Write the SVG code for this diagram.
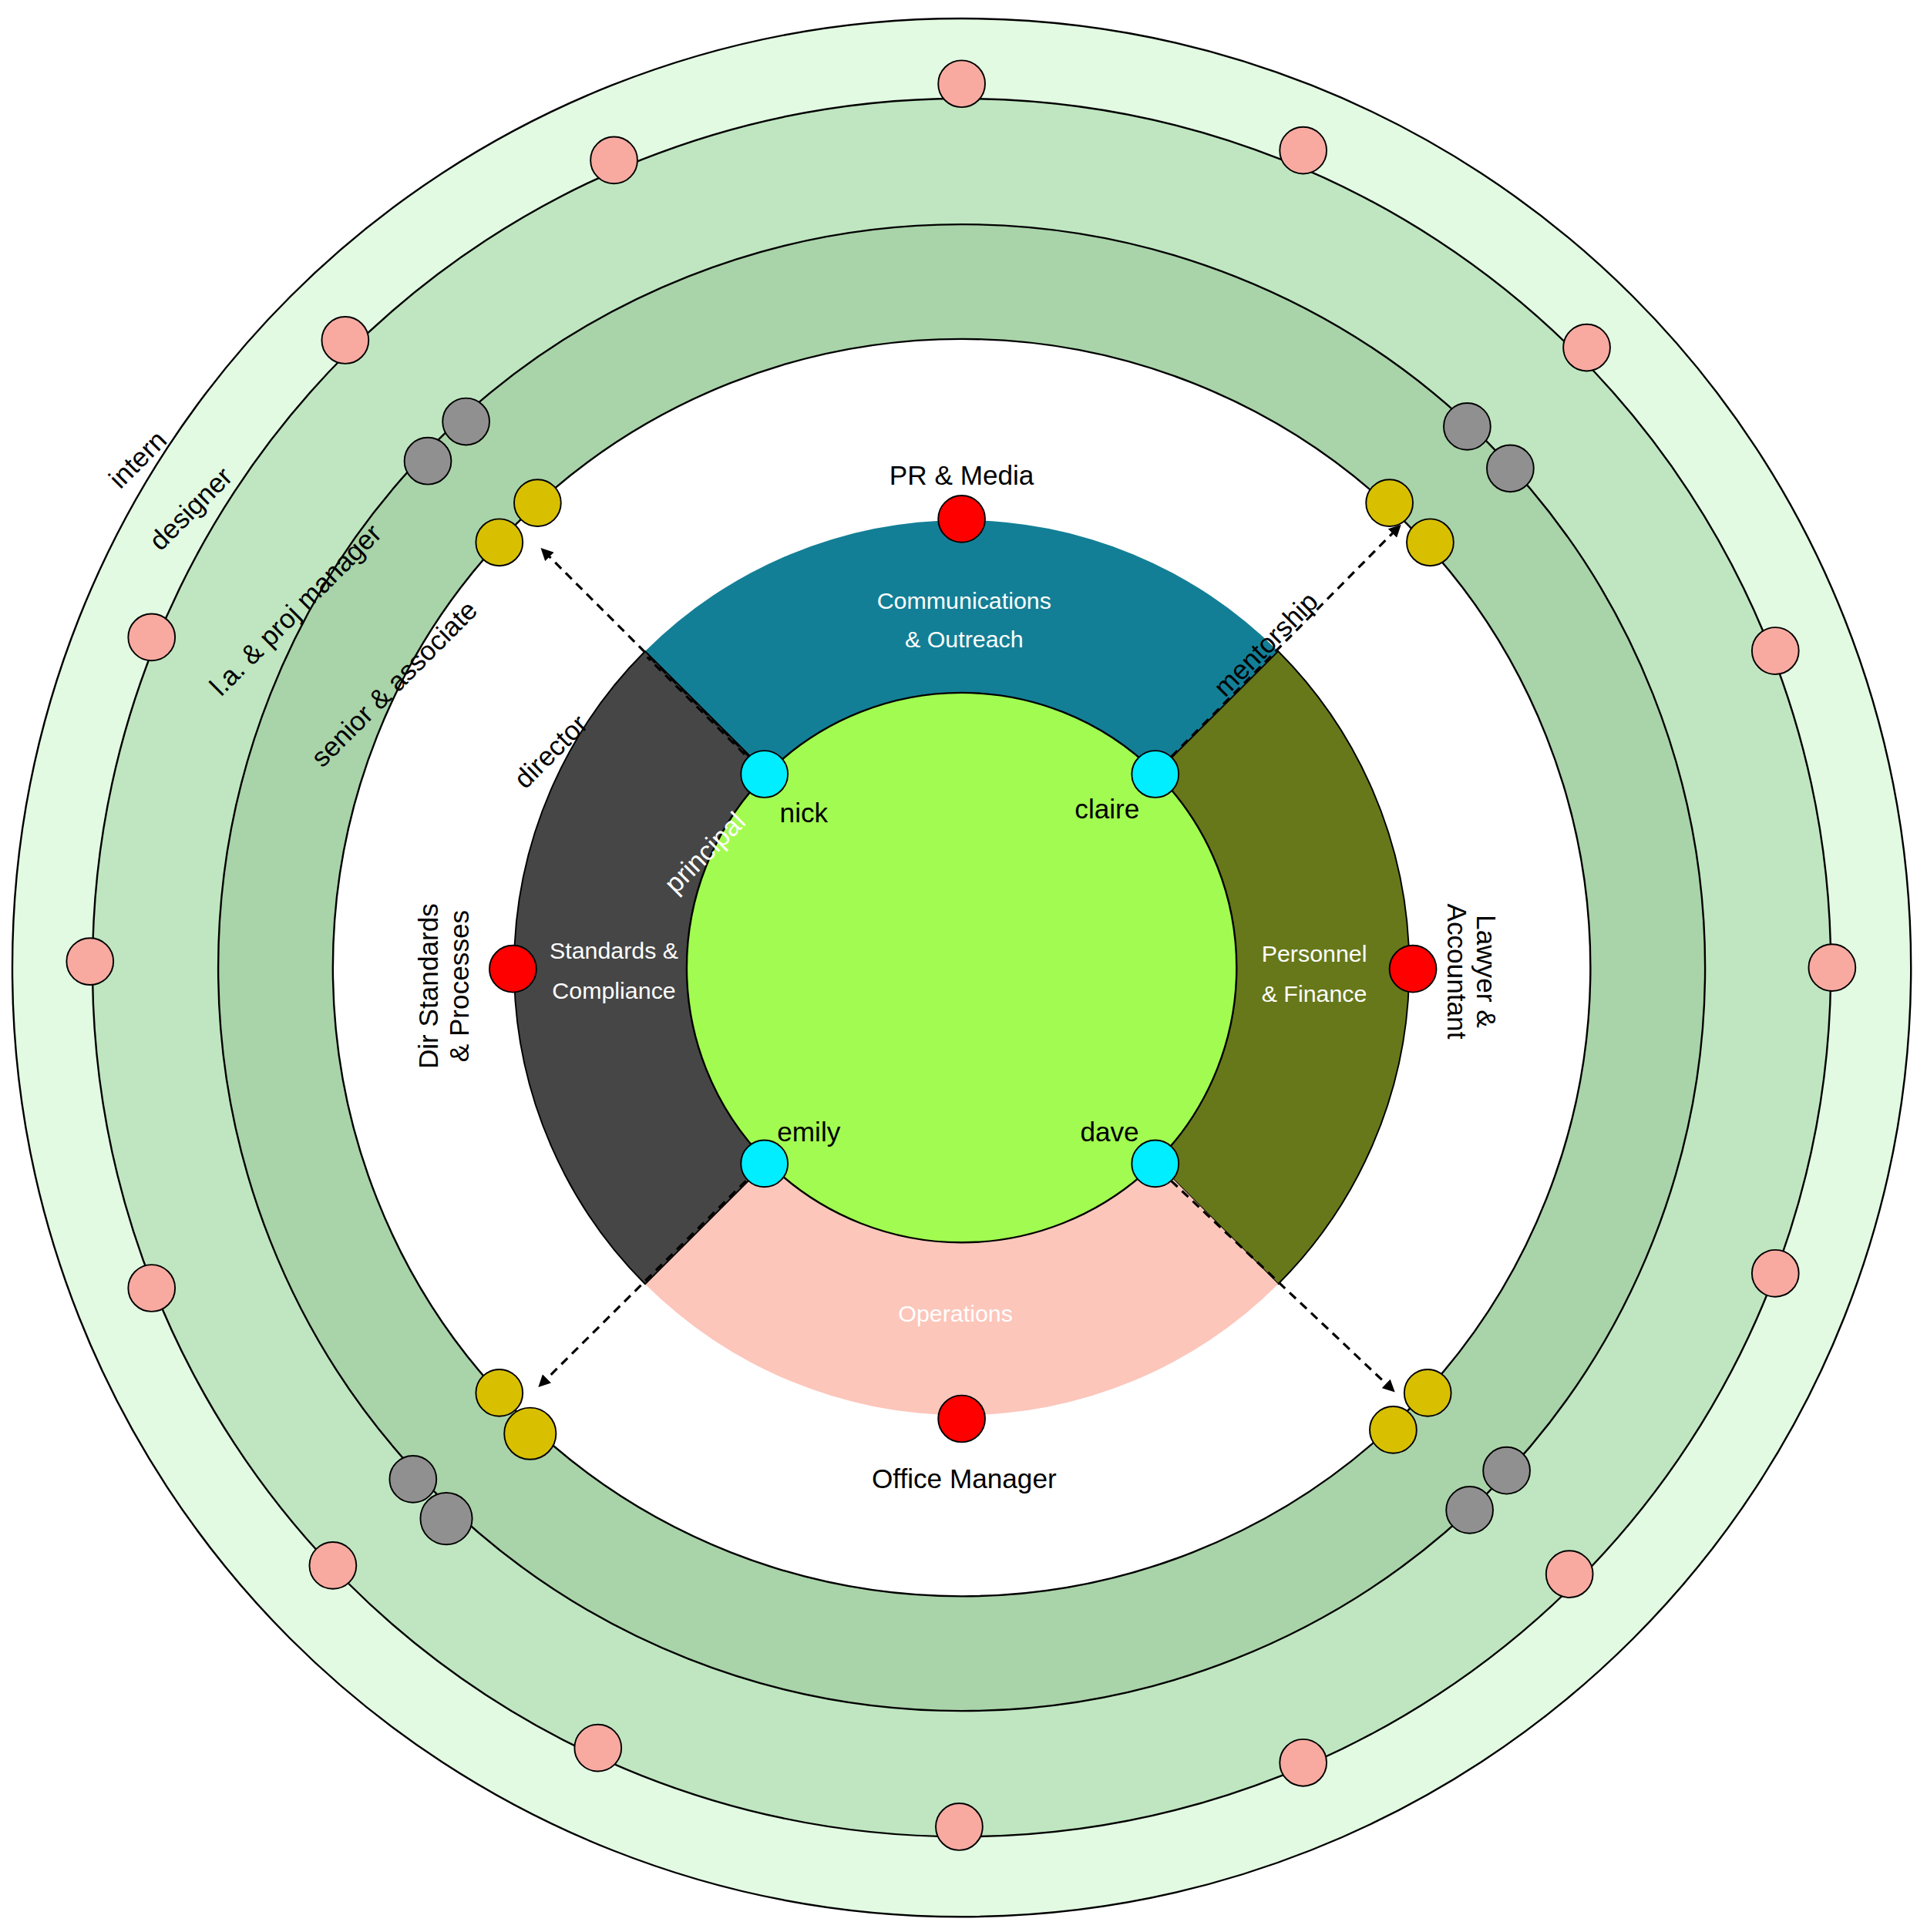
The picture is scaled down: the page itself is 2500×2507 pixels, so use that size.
<svg xmlns="http://www.w3.org/2000/svg" width="2500" height="2507" viewBox="0 0 2500 2507">
<style>
.ln{stroke:#000;stroke-width:1.5}
.pk{fill:#f8aaa0;stroke:#000;stroke-width:1.2}
.gy{fill:#909090;stroke:#000;stroke-width:1.2}
.yl{fill:#d8c000;stroke:#000;stroke-width:1.2}
.rd{fill:#f00;stroke:#000;stroke-width:1.2}
.cy{fill:#00eeff;stroke:#000;stroke-width:1.2}
text{font-family:"Liberation Sans",Arial,sans-serif;font-size:22px;fill:#000}
.w{fill:#fff;font-size:19px}
.m{text-anchor:middle}
.da{stroke:#000;stroke-width:2;stroke-dasharray:7,5;fill:none;marker-end:url(#ah)}
.dn{stroke:#000;stroke-width:2;stroke-dasharray:7,5;fill:none}
</style>
<defs><marker id="ah" markerWidth="10" markerHeight="10" refX="8" refY="5" orient="auto" markerUnits="userSpaceOnUse"><path d="M0,0L10,5L0,10z" fill="#000"/></marker></defs>
<rect width="2500" height="2507" fill="#fff"/>
<g transform="scale(1.5995)">
<g id="rings">
<circle cx="780" cy="785" r="770" fill="#e2f9e2" class="ln"/>
<circle cx="780" cy="785" r="705" fill="#bfe6c0" class="ln"/>
<circle cx="780" cy="785" r="603" fill="#a9d3a9" class="ln"/>
<circle cx="780" cy="785" r="510" fill="#fff" class="ln"/>
</g>
<g id="sectors">
<path d="M780,785 L523.3,528.3 A363,363 0 0 1 1036.7,528.3 Z" fill="#137f96"/>
<path d="M780,785 L1036.7,528.3 A363,363 0 0 1 1036.7,1041.7 Z" fill="#67781a" stroke="#000" stroke-width="1.2"/>
<path d="M780,785 L1036.7,1041.7 A363,363 0 0 1 523.3,1041.7 Z" fill="#fcc6bb"/>
<path d="M780,785 L523.3,1041.7 A363,363 0 0 1 523.3,528.3 Z" fill="#464646" stroke="#000" stroke-width="1.2"/>
<circle cx="780" cy="785" r="223" fill="#a2fb50" class="ln"/>
</g>
<g id="connectors">
<line x1="608" y1="614" x2="440" y2="446" class="da"/>
<line x1="604" y1="612" x2="525" y2="533" class="dn"/>
<line x1="950" y1="614" x2="1135" y2="427" class="da"/>
<line x1="605" y1="958" x2="438" y2="1124" class="da"/>
<line x1="950" y1="958" x2="1130" y2="1128" class="da"/>
</g>
<g id="pink">
<circle cx="780" cy="68" r="19" class="pk"/><circle cx="498" cy="130" r="19" class="pk"/><circle cx="1057" cy="122" r="19" class="pk"/>
<circle cx="280" cy="276" r="19" class="pk"/><circle cx="1287" cy="282" r="19" class="pk"/><circle cx="123" cy="517" r="19" class="pk"/>
<circle cx="1440" cy="528" r="19" class="pk"/><circle cx="73" cy="780" r="19" class="pk"/><circle cx="1486" cy="785" r="19" class="pk"/>
<circle cx="123" cy="1045" r="19" class="pk"/><circle cx="1440" cy="1033" r="19" class="pk"/><circle cx="270" cy="1270" r="19" class="pk"/>
<circle cx="1273" cy="1277" r="19" class="pk"/><circle cx="485" cy="1418" r="19" class="pk"/><circle cx="1057" cy="1430" r="19" class="pk"/>
<circle cx="778" cy="1482" r="19" class="pk"/>
</g>
<g id="gray">
<circle cx="378" cy="342" r="19" class="gy"/><circle cx="347" cy="374" r="19" class="gy"/>
<circle cx="1190" cy="346" r="19" class="gy"/><circle cx="1225" cy="380" r="19" class="gy"/>
<circle cx="335" cy="1200" r="19" class="gy"/><circle cx="362" cy="1232" r="21" class="gy"/>
<circle cx="1192" cy="1225" r="19" class="gy"/><circle cx="1222" cy="1193" r="19" class="gy"/>
</g>
<g id="yellow">
<circle cx="436" cy="408" r="19" class="yl"/><circle cx="405" cy="440" r="19" class="yl"/>
<circle cx="1127" cy="408" r="19" class="yl"/><circle cx="1160" cy="440" r="19" class="yl"/>
<circle cx="405" cy="1130" r="19" class="yl"/><circle cx="430" cy="1163" r="21" class="yl"/>
<circle cx="1130" cy="1160" r="19" class="yl"/><circle cx="1158" cy="1130" r="19" class="yl"/>
</g>
<g id="leads">
<circle cx="780" cy="421" r="19" class="rd"/><circle cx="416" cy="786" r="19" class="rd"/>
<circle cx="1146" cy="786" r="19" class="rd"/><circle cx="780" cy="1151" r="19" class="rd"/>
</g>
<g id="principals">
<circle cx="620" cy="628" r="19" class="cy"/><circle cx="937" cy="628" r="19" class="cy"/>
<circle cx="620" cy="944" r="19" class="cy"/><circle cx="937" cy="944" r="19" class="cy"/>
</g>
<g id="labels">
<text x="780" y="393" class="m">PR &amp; Media</text>
<text x="782" y="1207" class="m">Office Manager</text>
<text transform="translate(355,800) rotate(-90)" class="m">Dir Standards</text>
<text transform="translate(380,800) rotate(-90)" class="m">&amp; Processes</text>
<text transform="translate(1198,788) rotate(90)" class="m">Lawyer &amp;</text>
<text transform="translate(1174,788) rotate(90)" class="m">Accountant</text>
<text x="782" y="494" class="m w">Communications</text>
<text x="782" y="525" class="m w">&amp; Outreach</text>
<text x="498" y="778" class="m w">Standards &amp;</text>
<text x="498" y="810" class="m w">Compliance</text>
<text x="1066" y="780" class="m w">Personnel</text>
<text x="1066" y="813" class="m w">&amp; Finance</text>
<text x="775" y="1072" class="m w">Operations</text>
<text x="652" y="667" class="m">nick</text>
<text x="898" y="664" class="m">claire</text>
<text x="656" y="926" class="m">emily</text>
<text x="900" y="926" class="m">dave</text>
<text transform="translate(117,378) rotate(-45)" class="m">intern</text>
<text transform="translate(160,418) rotate(-45)" class="m">designer</text>
<text transform="translate(245,500) rotate(-45)" class="m">l.a. &amp; proj manager</text>
<text transform="translate(325,560) rotate(-45)" class="m">senior &amp; associate</text>
<text transform="translate(452,615) rotate(-45)" class="m">director</text>
<text transform="translate(577,697) rotate(-45)" class="m" fill="#fff" style="fill:#fff">principal</text>
<text transform="translate(1032,528) rotate(-45)" class="m">mentorship</text>
</g>
</g>
</svg>
